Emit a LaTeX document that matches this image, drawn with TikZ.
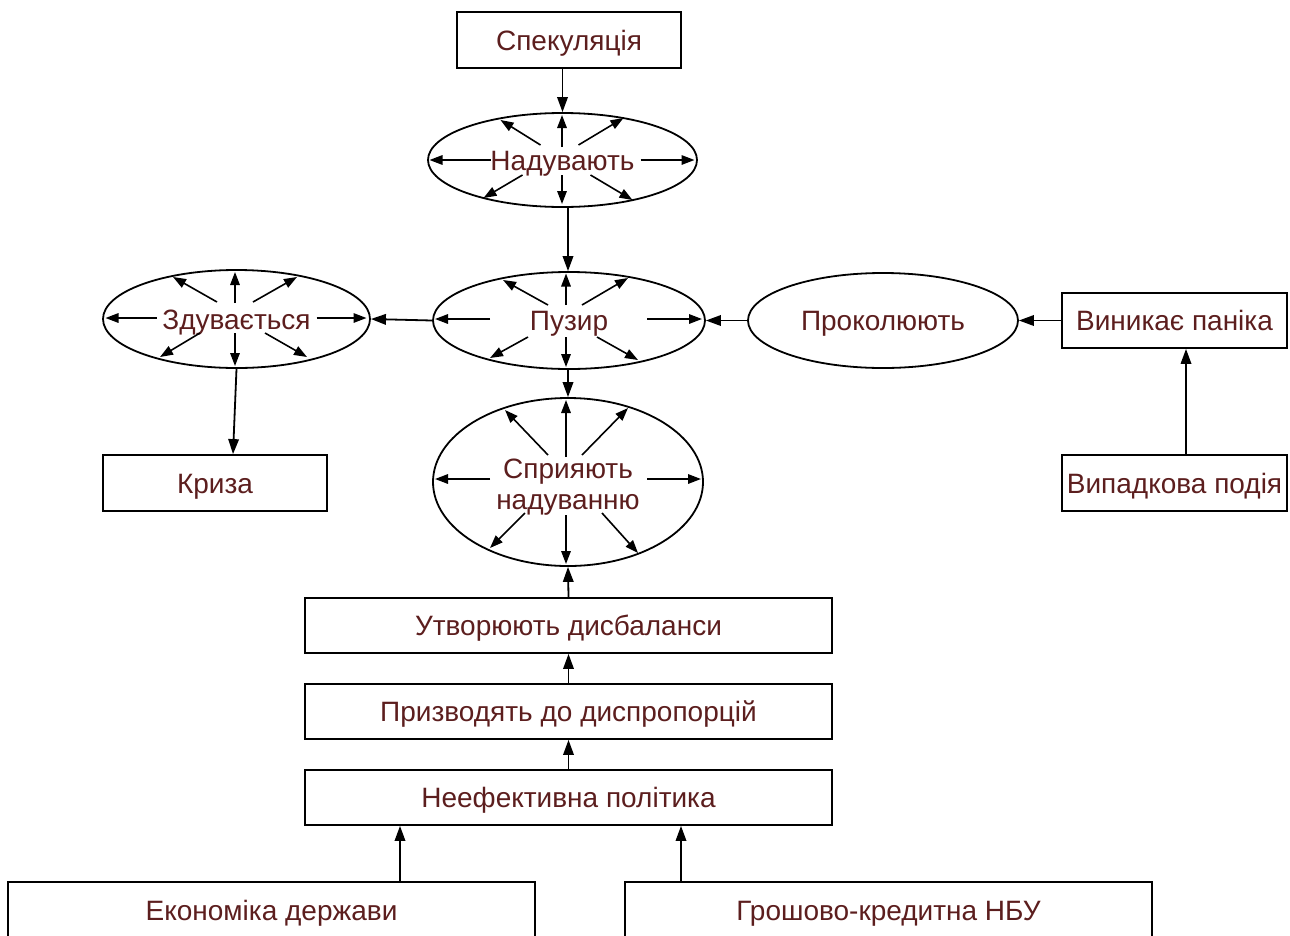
\documentclass[tikz,border=0pt]{standalone}
\usepackage{fontspec}
\setmainfont{Liberation Sans}
\usetikzlibrary{shapes.geometric,arrows.meta,calc}
\definecolor{txt}{RGB}{92,30,30}
\begin{document}
\begin{tikzpicture}[x=1pt,y=-1pt,
  every node/.style={font=\fontsize{28}{32}\selectfont, text=txt, inner sep=0pt},
  capcentred/.style={text height=20pt, text depth=0pt},
  box/.style={draw=black, line width=1.8pt, rectangle, minimum height=55, capcentred},
  oval/.style={draw=black, line width=1.8pt, ellipse, capcentred},
  link/.style={line width=1.8pt, -{Triangle[length=15pt,width=10.5pt]}},
  ray/.style={line width=1.6pt, -{Triangle[length=13pt,width=9.5pt]}}]
\useasboundingbox (0,0) rectangle (1290,935);

% boxes
\node[box, minimum width=224, minimum height=56] (spek) at (569,40) {Спекуляція};
\node[box, minimum width=225] (panic) at (1174.5,320.5) {Виникає паніка};
\node[box, minimum width=225, minimum height=56] (event) at (1174.5,483) {Випадкова подія};
\node[box, minimum width=224, minimum height=56] (crisis) at (215,483) {Криза};
\node[box, minimum width=527] (imb) at (568.5,625.5) {Утворюють дисбаланси};
\node[box, minimum width=527] (disp) at (568.5,711.5) {Призводять до диспропорцій};
\node[box, minimum width=527] (pol) at (568.5,797.5) {Неефективна політика};
\node[box, minimum width=527, minimum height=56] (econ) at (271.5,910) {Економіка держави};
\node[box, minimum width=527, minimum height=56] (nbu) at (888.5,910) {Грошово-кредитна НБУ};

% ellipses
\node[oval, minimum width=269, minimum height=94] (inf) at (562.5,160) {Надувають};
\node[oval, minimum width=272, minimum height=97] (bub) at (569,320.5) {Пузир};
\node[oval, minimum width=267, minimum height=98] (defl) at (236.5,319) {Здувається};
\node[oval, minimum width=270, minimum height=95] (prick) at (883,320.5) {Проколюють};
\node[oval, minimum width=270, minimum height=168] (help) at (568,482) {};
\node[align=center] (helptext) at ($(help)+(0,5)$) {Сприяють\\[-1pt]надуванню};

% rays inside the ellipses
\foreach \a/\b/\c/\d in {-72/0/-133/0, 78/0/132/0, -0.5/-13/-0.5/-45, -0.5/15/-0.5/44,
    -22/-15/-62/-40, 16/-15/61/-42, -40/15/-79/38, 28/15/70/40}
  \draw[ray] ($(inf)+(\a,\b)$) -- ($(inf)+(\c,\d)$);
\foreach \a/\b/\c/\d in {-80/-1/-131/-1, 80/-1/130/-1, -1.5/-16/-1.5/-47, -1.5/14/-1.5/47,
    -19.5/-17/-63.5/-42, 16.5/-17/60.5/-42, -36.5/14/-76.5/38, 28.5/14/70.5/38}
  \draw[ray] ($(defl)+(\a,\b)$) -- ($(defl)+(\c,\d)$);
\foreach \a/\b/\c/\d in {-79/-1.5/-134/-1.5, 78/-1.5/133/-1.5, -3/-15.5/-3/-47, -3/16.5/-3/46.5,
    -21/-15.5/-66/-40.5, 13/-15.5/59/-42.5, -41/16.5/-79/37.5, 28/16.5/69/39.5}
  \draw[ray] ($(bub)+(\a,\b)$) -- ($(bub)+(\c,\d)$);
\foreach \a/\b/\c/\d in {-78/-3/-133/-3, 79/-3/133/-3, -2/-25/-2/-82, -2/33/-2/82,
    -20/-27/-63/-72, 14/-27/60/-74, -43/31/-78/66, 34/31/70/71}
  \draw[ray] ($(help)+(\a,\b)$) -- ($(help)+(\c,\d)$);

% connectors
\draw[link] (spek.south -| inf.north) -- (inf.north);
\draw[link] ($(inf.south)+(5.5,0)$) -- ($(bub.north)+(-1,0)$);
\draw[link] (bub.west) -- (defl.east);
\draw[link] (prick.west) -- (bub.east);
\draw[link] (panic.west) -- (prick.east);
\draw[link] ($(event.north)+(11.5,0)$) coordinate (e1) -- (e1 |- panic.south);
\draw[link] (defl.south) -- ($(crisis.north)+(18,0)$);
\draw[link] ($(bub.south)+(-1,0)$) -- (help.north);
\draw[link] (imb.north) -- (help.south);
\draw[link] (disp.north) -- (imb.south);
\draw[link] (pol.north) -- (disp.south);
\draw[link] ($(econ.north)+(128.5,0)$) coordinate (e2) -- (e2 |- pol.south);
\draw[link] ($(nbu.north)+(-207.5,0)$) coordinate (e3) -- (e3 |- pol.south);
\end{tikzpicture}
\end{document}
